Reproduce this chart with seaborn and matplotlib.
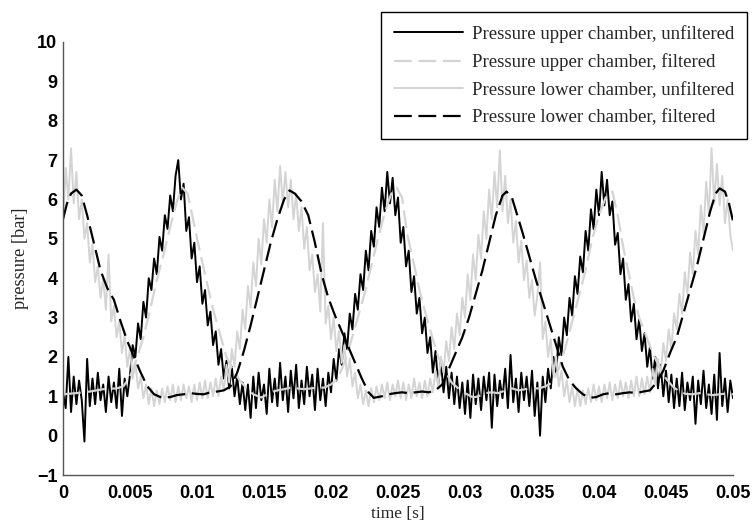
import numpy as np
import pandas as pd
import matplotlib
matplotlib.use("Agg")
import matplotlib.pyplot as plt
import seaborn as sns

# ---------------- data ----------------
# unfiltered signals, sampled every 0.2 ms from 0 to 0.05 s
t_raw = np.linspace(0.0, 0.05, 251)

p_upper_raw = [
    1.1, 0.7, 2.0, 0.6, 1.5, 0.8, 1.4, 0.9, -0.15, 1.95,
    0.75, 1.45, 0.8, 1.6, 0.9, 1.3, 0.6, 1.5, 0.85, 1.35,
    0.7, 1.7, 0.5, 1.45, 1.0, 1.55, 2.3, 2.0, 2.85, 2.45,
    3.4, 3.0, 4.0, 3.7, 4.5, 4.1, 5.05, 4.7, 5.6, 5.25,
    6.1, 5.7, 6.6, 7.0, 6.0, 6.4, 5.2, 5.55, 4.5, 4.9,
    3.9, 4.3, 3.35, 3.7, 2.8, 3.15, 2.3, 2.65, 1.8, 2.2,
    1.45, 1.9, 1.2, 1.75, 1.0, 1.5, 0.8, 1.35, 0.65, 1.3,
    0.45, 1.5, 0.7, 1.6, 0.9, 1.3, 0.55, 1.7, 0.85, 1.45,
    0.75, 1.85, 0.9, 1.5, 0.6, 1.65, 0.95, 1.8, 0.7, 1.4,
    0.8, 1.75, 1.0, 1.55, 0.65, 1.7, 0.9, 1.45, 0.75, 1.6,
    1.1, 1.95, 1.4, 2.2, 1.8, 2.6, 2.2, 3.1, 2.7, 3.6,
    3.2, 4.1, 3.7, 4.7, 4.2, 5.2, 4.8, 5.8, 5.3, 6.3,
    5.7, 6.7, 5.9, 6.55, 5.6, 6.05, 4.9, 5.3, 4.3, 4.7,
    3.65, 4.05, 3.1, 3.5, 2.6, 3.0, 2.1, 2.5, 1.6, 2.15,
    1.3, 1.9, 1.1, 1.75, 0.95, 1.6, 0.8, 1.5, 0.7, 1.35,
    0.55, 1.4, 0.45, 1.55, 0.8, 1.45, 0.65, 1.5, 0.9, 1.6,
    0.2, 1.55, 0.75, 1.4, 0.95, 1.7, 0.7, 2.05, 0.85, 1.45,
    0.6, 1.6, 0.9, 1.5, 0.75, 1.65, 0.5, 1.35, 0.0, 1.5,
    0.85, 1.7, 1.2, 2.0, 1.6, 2.5, 2.05, 3.0, 2.55, 3.5,
    3.05, 4.05, 3.6, 4.55, 4.15, 5.2, 4.7, 5.75, 5.25, 6.25,
    5.6, 6.7, 5.85, 6.5, 5.6, 5.95, 4.85, 5.15, 4.1, 4.5,
    3.45, 3.85, 2.9, 3.35, 2.45, 2.95, 2.15, 2.6, 1.75, 2.25,
    1.45, 2.0, 1.2, 1.8, 1.0, 1.65, 0.85, 1.55, 0.7, 1.45,
    0.75, 1.6, 0.65, 1.35, 0.9, 1.5, 0.3, 1.4, 0.8, 1.65,
    0.7, 1.3, 0.55, 1.55, 0.4, 2.1, 0.75, 1.45, 0.6, 1.4,
    0.95,
]

p_lower_raw = [
    5.4, 6.8, 6.0, 7.3, 5.9, 6.7, 5.5, 6.0, 5.0, 5.4,
    4.4, 4.85, 3.9, 4.3, 3.5, 4.0, 3.2, 4.6, 2.9, 3.3,
    2.5, 2.9, 2.1, 2.55, 1.75, 2.2, 1.45, 1.85, 1.2, 1.5,
    0.95, 1.3, 0.8, 1.2, 0.75, 1.15, 0.8, 1.2, 0.85, 1.25,
    0.9, 1.3, 0.85, 1.25, 0.9, 1.3, 0.95, 1.25, 0.85, 1.3,
    0.9, 1.35, 0.95, 1.4, 0.95, 1.35, 1.0, 1.45, 1.0, 1.5,
    1.15, 1.8, 1.35, 2.2, 1.75, 2.65, 2.2, 3.2, 2.7, 3.8,
    3.25, 4.4, 3.8, 5.0, 4.35, 5.5, 4.9, 6.0, 5.3, 6.5,
    5.7, 6.85, 5.9, 6.7, 5.8, 6.5, 5.5, 6.15, 5.2, 5.8,
    4.75, 5.3, 4.2, 4.6, 3.65, 4.1, 3.15, 5.4, 2.85, 3.3,
    2.45, 3.0, 2.15, 2.65, 1.85, 2.3, 1.5, 1.95, 1.25, 1.6,
    0.95, 1.3, 0.8, 1.15, 0.75, 1.2, 0.85, 1.25, 0.9, 1.3,
    0.95, 1.35, 0.9, 1.3, 1.0, 1.4, 0.95, 1.35, 0.9, 1.3,
    0.95, 1.45, 1.0, 1.35, 0.95, 1.4, 1.0, 1.45, 1.1, 1.65,
    1.25, 2.0, 1.6, 2.4, 1.9, 2.75, 2.2, 3.1, 2.55, 3.5,
    3.0, 4.1, 3.45, 4.6, 3.95, 5.1, 4.5, 5.7, 5.0, 6.25,
    5.5, 6.7, 5.8, 7.25, 5.7, 6.6, 5.4, 6.0, 4.9, 5.45,
    4.4, 4.95, 3.95, 4.45, 3.5, 3.95, 3.05, 3.55, 4.4, 2.45,
    2.9, 2.0, 2.45, 1.55, 2.0, 1.25, 1.65, 1.0, 1.4, 0.85,
    1.25, 0.75, 1.2, 0.75, 1.15, 0.8, 1.2, 0.85, 1.3, 0.9,
    1.25, 0.85, 1.3, 0.95, 1.35, 0.9, 1.3, 0.95, 1.4, 1.0,
    1.35, 0.95, 1.4, 1.0, 1.5, 1.0, 1.45, 1.05, 1.5, 1.1,
    1.7, 1.3, 1.95, 1.55, 2.35, 1.9, 2.7, 2.2, 3.1, 2.7,
    3.6, 3.1, 4.15, 3.6, 4.65, 4.1, 5.2, 4.6, 5.85, 5.15,
    6.45, 5.6, 7.3, 5.9, 6.9, 5.85, 6.6, 5.4, 6.0, 5.1,
    4.7,
]

# filtered signals
t_upper_filt = [
    0.0, 0.001, 0.002, 0.003, 0.004, 0.0045, 0.005, 0.0055, 0.006, 0.0065,
    0.007, 0.0075, 0.008, 0.0085, 0.0089, 0.0093, 0.0097, 0.0102, 0.0107, 0.0112,
    0.0117, 0.0122, 0.0127, 0.0132, 0.0137, 0.0142, 0.0148, 0.0155, 0.016, 0.0165,
    0.017, 0.0175, 0.018, 0.0185, 0.019, 0.0195, 0.020, 0.0205, 0.021, 0.0215,
    0.022, 0.0225, 0.023, 0.0235, 0.024, 0.0245, 0.0249, 0.0253, 0.0257, 0.0262,
    0.0266, 0.0271, 0.0276, 0.028, 0.0285, 0.029, 0.0295, 0.030, 0.0306, 0.031,
    0.0315, 0.032, 0.0325, 0.033, 0.0335, 0.034, 0.0345, 0.035, 0.0355, 0.036,
    0.0365, 0.037, 0.0375, 0.038, 0.0385, 0.039, 0.0395, 0.040, 0.0405, 0.041,
    0.0414, 0.0418, 0.0422, 0.0426, 0.043, 0.0435, 0.044, 0.0445, 0.045, 0.0455,
    0.046, 0.0465, 0.047, 0.0475, 0.048, 0.0485, 0.049, 0.0495, 0.05,
]
p_upper_filt = [
    1.05, 1.08, 1.12, 1.18, 1.2, 1.25, 1.5, 1.95, 2.5, 3.2,
    3.95, 4.6, 5.3, 5.95, 6.3, 6.15, 5.5, 4.7, 3.95, 3.2,
    2.6, 2.0, 1.65, 1.4, 1.2, 1.05, 0.97, 1.1, 1.15, 1.18,
    1.22, 1.2, 1.18, 1.2, 1.22, 1.22, 1.3, 1.45, 1.85, 2.4,
    3.0, 3.6, 4.3, 5.0, 5.65, 6.15, 6.3, 6.05, 5.1, 4.35,
    3.7, 3.05, 2.45, 2.0, 1.65, 1.35, 1.2, 1.08, 0.97, 1.0,
    1.08, 1.1, 1.08, 1.15, 1.2, 1.15, 1.18, 1.2, 1.2, 1.25,
    1.35, 1.7, 2.25, 2.9, 3.55, 4.2, 5.0, 5.6, 6.05, 6.2,
    5.6, 4.8, 4.15, 3.5, 3.0, 2.55, 2.1, 1.75, 1.45, 1.25,
    1.12, 1.06, 1.05, 1.08, 1.05, 1.03, 1.05, 1.07, 1.05,
]

t_lower_filt = [
    0.0, 0.0003, 0.0006, 0.001, 0.0014, 0.0018, 0.0023, 0.0028, 0.0033, 0.0038,
    0.0043, 0.0048, 0.0053, 0.0058, 0.0063, 0.0068, 0.0074, 0.008, 0.0085, 0.009,
    0.0095, 0.010, 0.0105, 0.011, 0.0115, 0.012, 0.0125, 0.013, 0.0135, 0.014,
    0.0145, 0.015, 0.0155, 0.016, 0.0165, 0.0169, 0.0173, 0.0178, 0.0183, 0.0188,
    0.0193, 0.0198, 0.0203, 0.0208, 0.0213, 0.0218, 0.0223, 0.0228, 0.0232, 0.0238,
    0.0243, 0.0248, 0.0253, 0.0258, 0.0263, 0.0268, 0.0273, 0.0278, 0.0283, 0.0288,
    0.0293, 0.0298, 0.0303, 0.0308, 0.0313, 0.0318, 0.0323, 0.0328, 0.0331, 0.0335,
    0.0339, 0.0343, 0.0348, 0.0353, 0.0358, 0.0363, 0.0368, 0.0373, 0.0378, 0.0383,
    0.0388, 0.0393, 0.0398, 0.0403, 0.0408, 0.0413, 0.0418, 0.0423, 0.0428, 0.0433,
    0.0438, 0.0443, 0.0448, 0.0453, 0.0458, 0.0463, 0.0468, 0.0473, 0.0478, 0.0483,
    0.0487, 0.049, 0.0494, 0.0497, 0.05,
]
p_lower_filt = [
    5.5, 5.9, 6.15, 6.25, 6.1, 5.6, 4.9, 4.2, 3.75, 3.45,
    2.9, 2.4, 2.0, 1.6, 1.25, 1.05, 0.96, 0.98, 1.03, 1.05,
    1.08, 1.06, 1.05, 1.1, 1.12, 1.15, 1.25, 1.6, 2.15, 2.8,
    3.5, 4.2, 4.9, 5.5, 6.0, 6.23, 6.15, 5.95, 5.6, 4.9,
    4.1, 3.5, 3.05, 2.65, 2.25, 1.85, 1.45, 1.1, 0.96, 1.0,
    1.05, 1.08, 1.1, 1.08, 1.1, 1.12, 1.1, 1.15, 1.3, 1.7,
    2.1, 2.5, 3.0, 3.6, 4.2, 4.9, 5.6, 6.1, 6.2, 6.05,
    5.6, 5.15, 4.55, 3.95, 3.4, 2.85, 2.3, 1.75, 1.4, 1.2,
    1.05, 0.96, 0.98, 1.05, 1.08, 1.05, 1.08, 1.1, 1.08, 1.12,
    1.15, 1.35, 1.65, 2.1, 2.5, 3.1, 3.7, 4.3, 5.0, 5.7,
    6.15, 6.28, 6.2, 5.9, 5.45,
]

labels = [
    "Pressure upper chamber, unfiltered",
    "Pressure upper chamber, filtered",
    "Pressure lower chamber, unfiltered",
    "Pressure lower chamber, filtered",
]
x_ticks = [0, 0.005, 0.01, 0.015, 0.02, 0.025, 0.03, 0.035, 0.04, 0.045, 0.05]
x_tick_labels = ["0", "0.005", "0.01", "0.015", "0.02", "0.025", "0.03",
                 "0.035", "0.04", "0.045", "0.05"]
y_ticks = [-1, 0, 1, 2, 3, 4, 5, 6, 7, 8, 9, 10]
y_tick_labels = ["\u22121"] + [str(v) for v in y_ticks[1:]]

# ---------------- styling ----------------
sns.set_style("white")
plt.rcParams["font.family"] = ["Liberation Serif", "DejaVu Serif"]

BLACK = "#000000"
GRAY = "#d4d4d4"
AXCOL = "#555555"

fig = plt.figure(figsize=(7.54, 5.24), dpi=100)
ax = fig.add_axes([63 / 754, 49 / 524, 670 / 754, 433 / 524])

df_raw = pd.DataFrame({"t": t_raw, "up": p_upper_raw, "lo": p_lower_raw})
df_uf = pd.DataFrame({"t": t_upper_filt, "p": p_upper_filt})
df_lf = pd.DataFrame({"t": t_lower_filt, "p": p_lower_filt})

dash = (0, (8, 3))
sns.lineplot(data=df_raw, x="t", y="up", ax=ax, color=BLACK, linewidth=1.4,
             estimator=None, sort=False, label=labels[0])
sns.lineplot(data=df_uf, x="t", y="p", ax=ax, color=GRAY, linewidth=1.6,
             estimator=None, sort=False, label=labels[1], linestyle=dash)
sns.lineplot(data=df_raw, x="t", y="lo", ax=ax, color=GRAY, linewidth=1.4,
             estimator=None, sort=False, label=labels[2])
sns.lineplot(data=df_lf, x="t", y="p", ax=ax, color=BLACK, linewidth=1.6,
             estimator=None, sort=False, label=labels[3], linestyle=dash)

ax.set_xlim(0, 0.05)
ax.set_ylim(-1, 10)
ax.set_xticks(x_ticks)
ax.set_xticklabels(x_tick_labels)
ax.set_yticks(y_ticks)
ax.set_yticklabels(y_tick_labels)

for lab in ax.get_xticklabels() + ax.get_yticklabels():
    lab.set_family(["Liberation Sans", "DejaVu Sans"])
    lab.set_fontweight("bold")
    lab.set_fontsize(13)
    lab.set_color("black")

ax.tick_params(axis="both", direction="in", length=5, width=1, color=AXCOL)
ax.tick_params(axis="x", pad=7.5)
ax.tick_params(axis="y", pad=4)

for s in ["top", "right"]:
    ax.spines[s].set_visible(False)
for s in ["left", "bottom"]:
    ax.spines[s].set_color(AXCOL)
    ax.spines[s].set_linewidth(1.0)

ax.set_xlabel("time [s]", fontsize=12.5, labelpad=2.5)
ax.set_ylabel("pressure [bar]", fontsize=13.2, labelpad=6)

handles, _ = ax.get_legend_handles_labels()
ax.get_legend().remove()
leg = fig.legend(handles, labels, loc="upper right",
                 bbox_to_anchor=(747 / 754, 512 / 524), borderaxespad=0,
                 frameon=True, fancybox=False, framealpha=1,
                 edgecolor="black", fontsize=13.5, handlelength=3.7,
                 handletextpad=0.45, labelspacing=0.55, borderpad=0.7)
leg.get_frame().set_linewidth(1.0)

fig.savefig("out.png", dpi=100, facecolor="white")
